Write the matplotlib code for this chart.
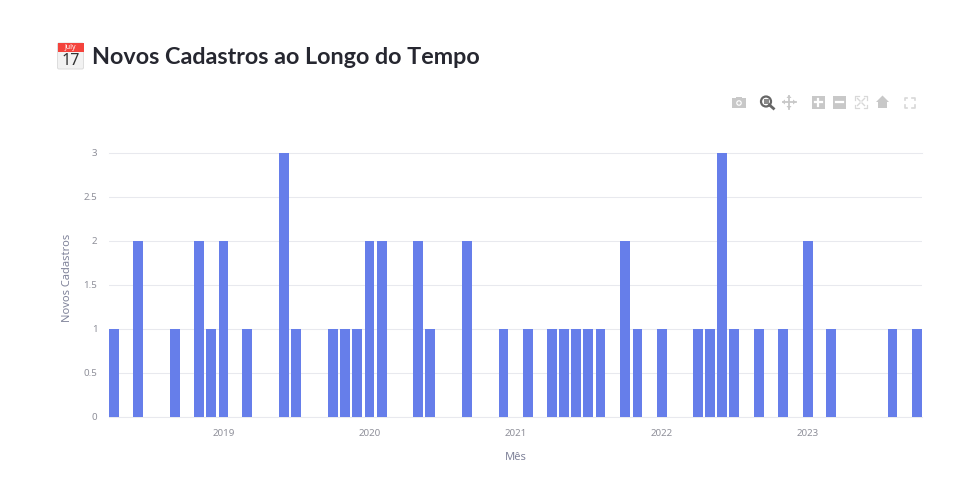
import matplotlib
matplotlib.use("Agg")
import matplotlib.pyplot as plt
from matplotlib.patches import Rectangle, FancyBboxPatch, Circle, Polygon
import pandas as pd

# Months that have new sign-ups, and how many
months = ['2018-04', '2018-06', '2018-09', '2018-11', '2018-12', '2019-01', '2019-03',
          '2019-06', '2019-07', '2019-10', '2019-11', '2019-12', '2020-01', '2020-02',
          '2020-05', '2020-06', '2020-09', '2020-12', '2021-02', '2021-04', '2021-05',
          '2021-06', '2021-07', '2021-08', '2021-10', '2021-11', '2022-01', '2022-04',
          '2022-05', '2022-06', '2022-07', '2022-09', '2022-11', '2023-01', '2023-03',
          '2023-08', '2023-10']
counts = [1, 2, 1, 2, 1, 2, 1,
          3, 1, 1, 1, 1, 2, 2,
          2, 1, 2, 1, 1, 1, 1,
          1, 1, 1, 2, 1, 1, 1,
          1, 3, 1, 1, 1, 2, 1,
          1, 1]
year_ticks = ['2019-01', '2020-01', '2021-01', '2022-01', '2023-01']
year_labels = ['2019', '2020', '2021', '2022', '2023']
y_ticks = [0, 0.5, 1, 1.5, 2, 2.5, 3]
y_labels = ['0', '0.5', '1', '1.5', '2', '2.5', '3']

plt.rcParams['font.family'] = ['Noto Sans', 'DejaVu Sans']

W, H = 974, 503
fig = plt.figure(figsize=(W / 100, H / 100), dpi=100)

# Plot area in pixels
left, right, top, bottom = 108.5, 922, 153, 417
ax = fig.add_axes([left / W, 1 - bottom / H, (right - left) / W, (bottom - top) / H])

dates = pd.to_datetime(months)
ax.bar(dates, counts, width=24.3, color='#667eea', zorder=3)
ax.set_xlim(pd.Timestamp('2018-03-19'), pd.Timestamp('2023-10-14'))
ax.set_ylim(0, 3)

ax.set_xticks(pd.to_datetime(year_ticks))
ax.set_xticklabels(year_labels)
ax.set_yticks(y_ticks)
ax.set_yticklabels(y_labels)
ax.tick_params(axis='both', length=0, labelsize=7, labelcolor='#8e8f99')
ax.tick_params(axis='x', pad=9)
ax.tick_params(axis='y', pad=8)
ax.grid(True, axis='y', color='#e8e9ee', linewidth=0.75, zorder=0)
for s in ['top', 'right', 'left']:
    ax.spines[s].set_visible(False)
ax.spines['bottom'].set_color('#e8e9ee')
ax.spines['bottom'].set_linewidth(0.75)
ax.spines['bottom'].set_zorder(1)
ax.yaxis.get_major_ticks()[-1].gridline.set_clip_on(False)

# Overlay in pixel coordinates for title, axis names, icons
ov = fig.add_axes([0, 0, 1, 1], facecolor='none')
ov.set_xlim(0, W)
ov.set_ylim(H, 0)
ov.axis('off')

ov.text(92, 57.5, 'Novos Cadastros ao Longo do Tempo', fontsize=16.85, fontweight='bold',
        family=['Lato', 'DejaVu Sans'], color='#262730', va='center', ha='left')
ov.text(515.5, 457, 'Mês', fontsize=8, color='#7f8299', ha='center', va='center')
ov.text(67.5, 278, 'Novos Cadastros', fontsize=8, color='#7f8299', ha='center', va='center', rotation=90)

# Calendar emoji
ov.add_patch(FancyBboxPatch((57.5, 43), 26, 26, boxstyle='round,pad=0,rounding_size=1.5',
                            fc='#f2f2f2', ec='#d8d8d8', lw=0.6))
ov.add_patch(Rectangle((57.5, 43), 26, 9, fc='#f4433c', ec='none'))
ov.text(70.5, 47.5, 'July', fontsize=5, fontweight='bold', color='white', ha='center', va='center')
ov.text(70.5, 60.5, '17', fontsize=11.5, fontweight='bold', color='#333333', ha='center', va='center')

# Toolbar icons
c = '#c8c8c8'
ov.add_patch(Rectangle((732, 98), 14, 10, fc=c, ec='none'))
ov.add_patch(Rectangle((736, 96.5), 6, 2, fc=c, ec='none'))
ov.add_patch(Circle((739, 103), 2.8, fc='white', ec='none'))
ov.add_patch(Circle((739, 103), 1.6, fc=c, ec='none'))

ov.add_patch(Circle((766, 101.5), 5, fc='none', ec='#666666', lw=1.6))
ov.add_patch(Rectangle((763.5, 99), 5, 5, fc='#8a8a8a', ec='none'))
ov.plot([769.5, 773.5], [105, 108.5], color='#666666', lw=2)

ov.plot([782.5, 795.5], [102, 102], color=c, lw=1.3)
ov.plot([789, 789], [95.5, 108.5], color=c, lw=1.3)
ov.add_patch(Polygon([(789, 95), (786.5, 98), (791.5, 98)], fc=c, ec='none'))
ov.add_patch(Polygon([(789, 109), (786.5, 106), (791.5, 106)], fc=c, ec='none'))
ov.add_patch(Polygon([(782, 102), (785, 99.5), (785, 104.5)], fc=c, ec='none'))
ov.add_patch(Polygon([(796, 102), (793, 99.5), (793, 104.5)], fc=c, ec='none'))

ov.add_patch(Rectangle((812, 96), 12.5, 12.5, fc=c, ec='none'))
ov.plot([814.5, 822], [102.2, 102.2], color='white', lw=1.6)
ov.plot([818.2, 818.2], [98.5, 106], color='white', lw=1.6)

ov.add_patch(Rectangle((833, 96), 12.5, 12.5, fc=c, ec='none'))
ov.plot([835.5, 843], [102.2, 102.2], color='white', lw=1.6)

c2 = '#d8d8d8'
for x, y, dx, dy in [(855, 96, 1, 1), (867, 96, -1, 1), (855, 108, 1, -1), (867, 108, -1, -1)]:
    ov.plot([x + 3.5 * dx, x, x], [y, y, y + 3.5 * dy], color=c2, lw=0.9)
    ov.plot([x + 2.5 * dx, x + 5 * dx], [y + 2.5 * dy, y + 5 * dy], color=c2, lw=1)

ov.add_patch(Polygon([(882.5, 95.5), (889, 102), (887, 102), (887, 108), (878, 108), (878, 102), (876, 102)],
                     fc=c, ec='none'))

for x, y, dx, dy in [(904.5, 97.5, 1, 1), (914.5, 97.5, -1, 1), (904.5, 107.5, 1, -1), (914.5, 107.5, -1, -1)]:
    ov.plot([x + 2.5 * dx, x, x], [y, y, y + 2.5 * dy], color=c2, lw=1.2)

fig.savefig('out.png', dpi=100, facecolor='white')
